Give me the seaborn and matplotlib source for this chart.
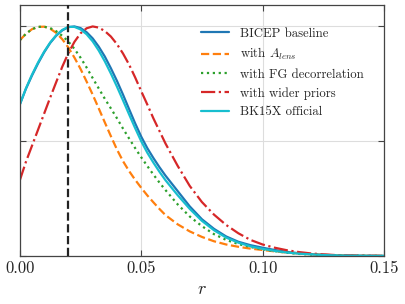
"""Normalised likelihoods for r under several analysis choices."""

import matplotlib

matplotlib.use('Agg')

import matplotlib.pyplot as plt
import pandas as pd
import seaborn as sns

# finer sampling where the curves bend most, coarser in the tails
r_grid = [0.0000, 0.0025, 0.0050, 0.0075, 0.0100, 0.0125, 0.0150, 0.0175,
          0.0200, 0.0225, 0.0250, 0.0275, 0.0300, 0.0325, 0.0350, 0.0375,
          0.0400, 0.0425, 0.0450, 0.0475, 0.0500, 0.0525, 0.0550, 0.0575,
          0.0600,
          0.065, 0.070, 0.075, 0.080, 0.085, 0.090, 0.095, 0.100, 0.105,
          0.110, 0.115, 0.120, 0.125, 0.130, 0.135, 0.140, 0.145, 0.150]

baseline = [0.660, 0.728, 0.786, 0.839, 0.887, 0.928, 0.960, 0.983,
            0.997, 1.000, 0.993, 0.975, 0.948, 0.912, 0.869, 0.818,
            0.763, 0.703, 0.640, 0.578, 0.520, 0.470, 0.427, 0.387,
            0.350,
            0.283, 0.216, 0.160, 0.118, 0.085, 0.062, 0.047, 0.036, 0.026,
            0.018, 0.012, 0.008, 0.005, 0.003, 0.002, 0.001, 0.0005, 0.0002]
alens = [0.940, 0.968, 0.988, 0.998, 0.999, 0.990, 0.972, 0.944,
         0.908, 0.864, 0.815, 0.760, 0.703, 0.643, 0.582, 0.522,
         0.464, 0.413, 0.370, 0.332, 0.297, 0.264, 0.234, 0.205,
         0.178,
         0.138, 0.107, 0.083, 0.064, 0.050, 0.040, 0.032, 0.026, 0.020,
         0.015, 0.011, 0.007, 0.005, 0.003, 0.002, 0.001, 0.0005, 0.0002]
fg_decorr = [0.940, 0.968, 0.988, 0.998, 0.999, 0.993, 0.979, 0.959,
             0.934, 0.902, 0.864, 0.821, 0.775, 0.730, 0.685, 0.643,
             0.600, 0.555, 0.512, 0.470, 0.430, 0.392, 0.355, 0.320,
             0.287,
             0.225, 0.172, 0.130, 0.095, 0.070, 0.052, 0.039, 0.029, 0.021,
             0.014, 0.009, 0.006, 0.004, 0.0025, 0.0015, 0.001, 0.0005, 0.0002]
wide_priors = [0.330, 0.410, 0.480, 0.550, 0.620, 0.690, 0.758, 0.825,
               0.884, 0.933, 0.970, 0.992, 1.000, 0.995, 0.980, 0.956,
               0.923, 0.882, 0.834, 0.778, 0.718, 0.660, 0.600, 0.545,
               0.490,
               0.393, 0.305, 0.235, 0.180, 0.135, 0.099, 0.070, 0.050, 0.036,
               0.025, 0.017, 0.011, 0.007, 0.004, 0.0025, 0.0015, 0.001, 0.0005]
bk15x = [0.660, 0.730, 0.790, 0.843, 0.890, 0.930, 0.962, 0.985,
         0.998, 0.998, 0.987, 0.966, 0.935, 0.895, 0.848, 0.795,
         0.738, 0.678, 0.617, 0.557, 0.500, 0.450, 0.407, 0.367,
         0.330,
         0.265, 0.205, 0.153, 0.112, 0.080, 0.058, 0.042, 0.031, 0.022,
         0.015, 0.010, 0.007, 0.004, 0.0025, 0.0015, 0.001, 0.0005, 0.0002]

labels = ['BICEP baseline', 'with $A_{lens}$', 'with FG decorrelation',
          'with wider priors', 'BK15X official']
r_marker = 0.02

sns.set_theme(style='whitegrid')
plt.rcParams['font.family'] = 'serif'
plt.rcParams['font.serif'] = ['cmr10', 'DejaVu Serif']
plt.rcParams['mathtext.fontset'] = 'cm'
plt.rcParams['axes.formatter.use_mathtext'] = True

series = [baseline, alens, fg_decorr, wide_priors, bk15x]
colors = ['#1f77b4', '#ff7f0e', '#2ca02c', '#d62728', '#17becf']
styles = ['-', '--', ':', '-.', '-']

fig, ax = plt.subplots(figsize=(4.05, 3.04), dpi=100)
fig.subplots_adjust(left=0.049, right=0.948, top=0.984, bottom=0.158)

for vals, lab, c, ls in zip(series, labels, colors, styles):
    df = pd.DataFrame({'r': r_grid, 'like': vals})
    sns.lineplot(data=df, x='r', y='like', color=c, linestyle=ls, lw=1.6,
                 label=lab, ax=ax)

ax.axvline(r_marker, color='#222222', ls='--', lw=1.6, zorder=5)

ax.set_xlim(0, 0.15)
ax.set_ylim(0, 1.094)
ax.set_xticks([0.0, 0.05, 0.10, 0.15])
ax.set_xticklabels(['0.00', '0.05', '0.10', '0.15'])
ax.set_yticks([0.0, 0.5, 1.0])
ax.set_yticklabels([])
ax.tick_params(direction='in', top=True, right=True, left=True, bottom=True,
               length=4, width=0.8, color='#444444', labelsize=12)
ax.grid(True, color='#dddddd', lw=0.8)
for sp in ax.spines.values():
    sp.set_color('#444444')
    sp.set_linewidth(0.9)
ax.set_xlabel('$r$', fontsize=13)
ax.set_ylabel('')
ax.legend(loc='upper right', bbox_to_anchor=(0.975, 0.955), frameon=False,
          fontsize=9.2, handlelength=2.2, labelspacing=0.5)

fig.savefig('out.png', dpi=100)
plt.close(fig)
